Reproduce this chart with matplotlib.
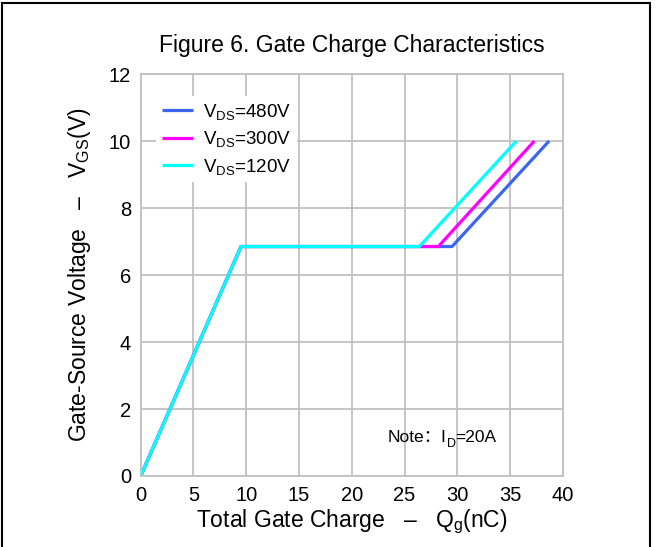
import matplotlib.pyplot as plt
from matplotlib.lines import Line2D

plt.rcParams['font.family'] = ['Liberation Sans', 'Noto Sans CJK SC']
plt.rcParams['mathtext.fontset'] = 'custom'
plt.rcParams['mathtext.rm'] = 'Liberation Sans'
plt.rcParams['mathtext.it'] = 'Liberation Sans'

# --- Data ---
vgs = [0, 6.85, 6.85, 10]
qg_480 = [0, 9.5, 29.5, 38.7]
qg_300 = [0, 9.5, 28.2, 37.3]
qg_120 = [0, 9.5, 26.4, 35.6]
labels = [r'V$_{\mathrm{DS}}$=480V', r'V$_{\mathrm{DS}}$=300V', r'V$_{\mathrm{DS}}$=120V']
colors = ['#3A66F2', '#FF00FF', '#00FFFF']

fig = plt.figure(figsize=(6.56, 5.47), dpi=100)
ax = fig.add_axes([0.2145, 0.1298, 0.6435, 0.7349])

for q, lab, c in zip([qg_480, qg_300, qg_120], labels, colors):
    ax.plot(q, vgs, color=c, lw=2.3, label=lab, solid_capstyle='butt')

ax.set_xlim(0, 40)
ax.set_ylim(0, 12)
ax.set_xticks(range(0, 41, 5))
ax.set_yticks(range(0, 13, 2))
ax.grid(True, color='#C0C0C0', lw=1.3)
ax.set_axisbelow(True)
for s in ax.spines.values():
    s.set_color('#C0C0C0')
    s.set_linewidth(1.3)
ax.tick_params(length=0, labelsize=14.5, pad=7)

ax.set_title('Figure 6. Gate Charge Characteristics', fontsize=16.5, pad=16)
ax.set_xlabel(r'Total Gate Charge   –   Q$_{\mathrm{g}}$(nC)', fontsize=16.5, labelpad=2)
ax.set_ylabel(r'Gate-Source Voltage   –   V$_{\mathrm{GS}}$(V)', fontsize=16.5, labelpad=11)

leg = ax.legend(loc='upper left', bbox_to_anchor=(0.014, 0.968), frameon=True,
                fontsize=13.5, handlelength=1.7, handletextpad=0.5,
                labelspacing=0.4, borderpad=0.3)
leg.get_frame().set_edgecolor('none')
leg.get_frame().set_facecolor('white')
leg.get_frame().set_alpha(1)

# note: full-width colon needs the CJK fallback, so keep it out of mathtext
t1 = ax.text(0.585, 0.095, 'Note：I', transform=ax.transAxes,
             fontsize=12.5, ha='left', va='center')
t2 = ax.annotate('D', xy=(1, 0.1), xycoords=t1, fontsize=9,
                 ha='left', va='center')
ax.annotate('=20A', xy=(1, 0.5), xycoords=(t2, t1),
            fontsize=12.5, ha='left', va='center')

# outer frame
fig.add_artist(Line2D([2/656, 650/656], [1-3/547, 1-3/547], color='black', lw=1.5, transform=fig.transFigure))
fig.add_artist(Line2D([2/656, 2/656], [0, 1-3/547], color='black', lw=1.5, transform=fig.transFigure))
fig.add_artist(Line2D([650/656, 650/656], [0, 1-3/547], color='black', lw=1.5, transform=fig.transFigure))

fig.savefig('out.png', dpi=100)
